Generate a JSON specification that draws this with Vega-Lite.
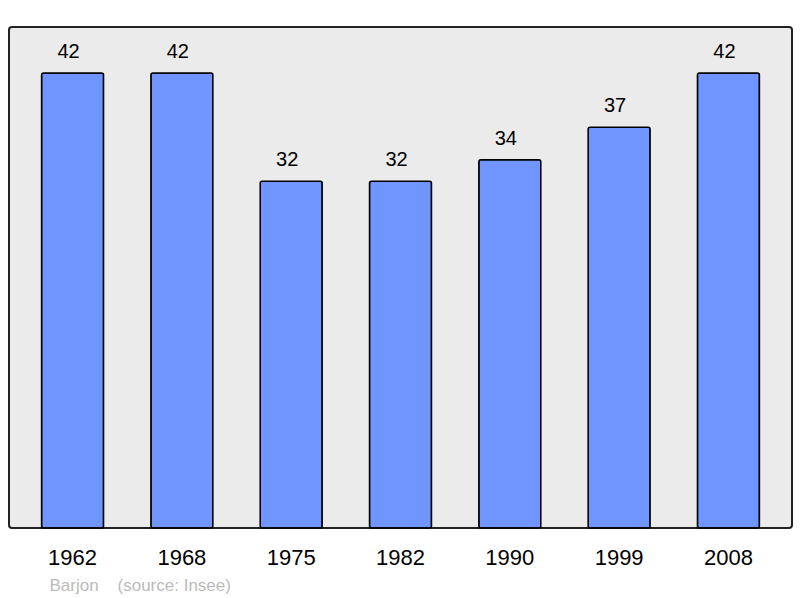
{
  "$schema": "https://vega.github.io/schema/vega-lite/v6.json",
  "autosize": {"type": "none"},
  "padding": {"left": 9, "top": 27, "right": 8, "bottom": 70},
  "width": 783,
  "height": 501,
  "background": "white",
  "config": {
    "view": {"fill": "#ebebeb", "stroke": "#222222", "strokeWidth": 2, "cornerRadius": 3},
    "font": "Liberation Sans"
  },
  "data": {
    "values": [
      {"year": "1962", "pop": 42},
      {"year": "1968", "pop": 42},
      {"year": "1975", "pop": 32},
      {"year": "1982", "pop": 32},
      {"year": "1990", "pop": 34},
      {"year": "1999", "pop": 37},
      {"year": "2008", "pop": 42}
    ]
  },
  "encoding": {
    "x": {
      "field": "year",
      "type": "nominal",
      "sort": null,
      "scale": {"paddingInner": 0.433, "paddingOuter": 0.298},
      "axis": {
        "title": "Barjon\u00a0\u00a0\u00a0\u00a0(source: Insee)",
        "titleFont": "Liberation Sans",
        "titleFontSize": 17,
        "titleFontWeight": "normal",
        "titleColor": "#bbbbbb",
        "titleAnchor": "start",
        "titleAlign": "left",
        "titleBaseline": "alphabetic",
        "titleX": 40,
        "titleY": 62,
        "labelAngle": 0,
        "labelFontSize": 22,
        "labelColor": "#000000",
        "labelBaseline": "alphabetic",
        "labelPadding": 36,
        "domain": false,
        "ticks": false
      }
    },
    "y": {
      "field": "pop",
      "type": "quantitative",
      "scale": {"domain": [0, 46.25], "nice": false},
      "axis": null
    }
  },
  "layer": [
    {
      "mark": {"type": "bar", "color": "#7095ff", "stroke": "#000000", "strokeWidth": 1.5, "cornerRadius": 2}
    },
    {
      "mark": {"type": "text", "dy": -15, "dx": -4, "baseline": "alphabetic", "fontSize": 20, "color": "#000000"},
      "encoding": {"text": {"field": "pop", "type": "quantitative"}}
    }
  ]
}
